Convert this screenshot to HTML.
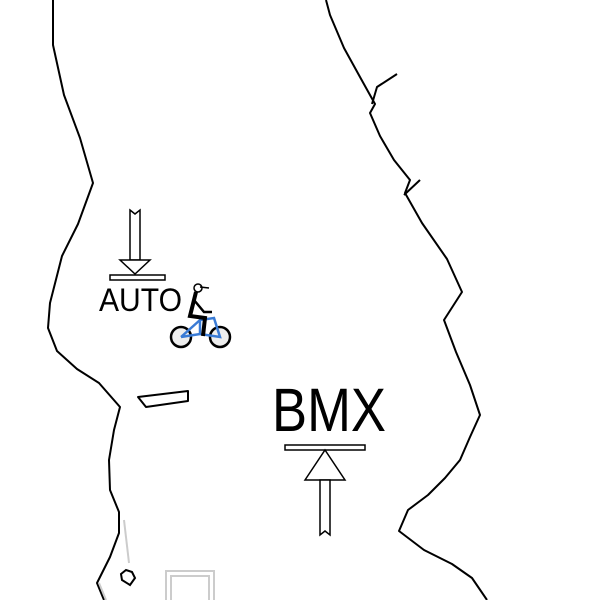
<!DOCTYPE html>
<html><head><style>body{margin:0;background:#fff}svg{display:block}</style></head><body>
<svg width="600" height="600" viewBox="0 0 600 600" xmlns="http://www.w3.org/2000/svg">
<g fill="none" stroke="#000" stroke-width="2" stroke-linejoin="round">
<polyline points="53,0 53,45 64,95 80,138 93,183 78,224 62,256 50,303 48,328 57,351 77,369 99,383 120,407 114,430 109,460 110,490 119,512 119,533 110,557 97,583 104,600"/>
<polyline points="326,0 330,15 344,48 360,77 375,104 370,113 380,136 394,160 410,180 405,193 422,223 447,259 462,292 444,320 456,352 470,385 480,415 470,437 460,460 445,478 428,495 408,510 399,531 424,550 452,564 472,578 487,600"/>
<polyline points="372,104 377,87 397,74"/>
<line x1="404" y1="195" x2="420" y2="180"/>
<polygon points="138,397 188,391 188,401 146,407"/>
</g>
<g fill="none" stroke="#ccc" stroke-width="2">
<line x1="124" y1="520" x2="129" y2="563"/>
<line x1="99" y1="583" x2="106" y2="600"/>
<rect x="166" y="571" width="48" height="40"/>
<rect x="171" y="576" width="38" height="40"/>
</g>
<polygon points="121,574 126,570 132,572 135,578 130,585 122,580" fill="none" stroke="#000" stroke-width="2"/>
<g fill="#fff" stroke="#000" stroke-width="1.5">
<polygon points="130,210 135,214 140,210 140,260 130,260"/>
<polygon points="120,260 150,260 135,274"/>
<rect x="110" y="275" width="55" height="5"/>
<rect x="285" y="445" width="80" height="5"/>
<polygon points="305,480 325,450 345,480"/>
<polygon points="320,480 330,480 330,535 325,531 320,535"/>
</g>
<text x="99" y="311" font-family="Liberation Sans, sans-serif" font-size="32" fill="#000" textLength="83" lengthAdjust="spacingAndGlyphs" style="font-weight:normal">AUTO</text>
<text x="272" y="431" font-family="Liberation Sans, sans-serif" font-size="61" fill="#000" textLength="114" lengthAdjust="spacingAndGlyphs">BMX</text>
<g fill="none" stroke-width="2.5">
<circle cx="181" cy="337" r="10" stroke="#000" fill="#eee"/>
<circle cx="220" cy="337" r="10" stroke="#000" fill="#eee"/>
<polyline points="181,337 200,320 214,318 220,337 200,334 181,337" stroke="#3a7bd5"/>
<line x1="200" y1="320" x2="200" y2="334" stroke="#3a7bd5"/>
<polyline points="196,292 190,316 205,318 203,336" stroke="#000" stroke-width="4"/>
<polyline points="194,300 204,312 212,312" stroke="#000"/>
<circle cx="198" cy="288" r="4" stroke="#000" stroke-width="1.5" fill="#fff"/>
<line x1="200" y1="287" x2="209" y2="288" stroke="#000" stroke-width="1.5"/>
</g>
</svg>
</body></html>
